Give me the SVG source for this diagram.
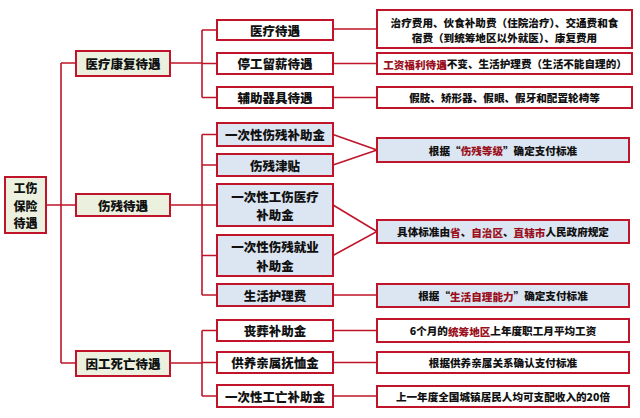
<svg xmlns="http://www.w3.org/2000/svg" width="640" height="418" viewBox="0 0 640 418">
<style>
text{font-family:"Noto Sans CJK SC","Noto Sans",sans-serif;font-weight:900;fill:#111;dominant-baseline:central;text-anchor:middle}
.b{stroke:#c0142a;stroke-width:2}
.g{fill:#ebf1de}
.u{fill:#dce6f2}
.w{fill:#fff}
.t1{font-size:12.5px}
.t0{font-size:12px}
.t2{font-size:12.5px}
.t3{font-size:10.6px}
.r{fill:#9a1020}
.c{stroke:#c0142a;stroke-width:1.6;fill:none}
</style>
<rect width="640" height="418" fill="#fff"/>
<g id="connectors">
<path class="c" d="M46 205H61M61 63V363M61 63H76M61 205H76M61 363H76"/>
<path class="c" d="M170 63H202M202 30V97.5M202 30H217M202 63.5H217M202 97.5H217"/>
<path class="c" d="M170 205H202M202 134.5V295M202 134.5H217M202 165H217M202 205H217M202 255.5H217M202 295H217"/>
<path class="c" d="M170 363H202M202 330.5V396M202 330.5H217M202 362.5H217M202 396H217"/>
<path class="c" d="M333 29H377M333 63.5H377M333 97.5H377"/>
<path class="c" d="M333 134.5L377 150L333 165M333 205L377 231.5L333 255.5M333 295H377"/>
<path class="c" d="M333 330.5H377M333 362.5H377M333 396H377"/>
</g>
<g id="root"><rect class="b g" x="5" y="177" width="41" height="56"/><text class="t0" x="25.5" y="187.5">工伤</text><text class="t0" x="25.5" y="205">保险</text><text class="t0" x="25.5" y="222.5">待遇</text></g>
<g id="n-yiliaokangfu"><rect class="b g" x="76" y="51" width="94" height="25"/><text class="t1" x="123" y="63.5">医疗康复待遇</text></g>
<g id="n-shangcan"><rect class="b g" x="76" y="194" width="94" height="22"/><text class="t1" x="123" y="205">伤残待遇</text></g>
<g id="n-yingongsiwang"><rect class="b g" x="76" y="351" width="94" height="25"/><text class="t1" x="123" y="363.5">因工死亡待遇</text></g>

<g id="n-yiliao"><rect class="b w" x="217" y="20" width="116" height="20"/><text class="t2" x="275" y="30">医疗待遇</text></g>
<g id="n-tinggong"><rect class="b w" x="217" y="53" width="116" height="21"/><text class="t2" x="275" y="63.5">停工留薪待遇</text></g>
<g id="n-fuzhu"><rect class="b w" x="217" y="87" width="116" height="21"/><text class="t2" x="275" y="97.5">辅助器具待遇</text></g>

<g id="n-ycxscbzj"><rect class="b u" x="217" y="123" width="116" height="23"/><text class="t2" x="275" y="134.5">一次性伤残补助金</text></g>
<g id="n-scjt"><rect class="b u" x="217" y="154" width="116" height="22"/><text class="t2" x="275" y="165">伤残津贴</text></g>
<g id="n-ycxgsyl"><rect class="b u" x="217" y="184" width="116" height="42"/><text class="t2" x="275" y="196">一次性工伤医疗</text><text class="t2" x="275" y="214.5">补助金</text></g>
<g id="n-ycxscjy"><rect class="b u" x="217" y="235" width="116" height="41"/><text class="t2" x="275" y="246.5">一次性伤残就业</text><text class="t2" x="275" y="265">补助金</text></g>
<g id="n-shhl"><rect class="b u" x="217" y="284" width="116" height="22"/><text class="t2" x="275" y="295">生活护理费</text></g>

<g id="n-sangzang"><rect class="b w" x="217" y="320" width="116" height="21"/><text class="t2" x="275" y="330.5">丧葬补助金</text></g>
<g id="n-gongyang"><rect class="b w" x="217" y="352" width="116" height="21"/><text class="t2" x="275" y="362.5">供养亲属抚恤金</text></g>
<g id="n-ycxgw"><rect class="b w" x="217" y="385" width="116" height="22"/><text class="t2" x="275" y="396">一次性工亡补助金</text></g>

<g id="d-yiliao"><rect class="b w" x="377" y="10" width="255" height="38"/><text class="t3" x="504.5" y="22">治疗费用、伙食补助费（住院治疗）、交通费和食</text><text class="t3" x="504.5" y="37">宿费（到统筹地区以外就医）、康复费用</text></g>
<g id="d-tinggong"><rect class="b w" x="377" y="53" width="255" height="21"/><text class="t3" x="505" y="63.5"><tspan class="r">工资福利待遇</tspan>不变、生活护理费（生活不能自理的）</text></g>
<g id="d-fuzhu"><rect class="b w" x="377" y="87" width="255" height="21"/><text class="t3" x="504.5" y="97.5">假肢、矫形器、假眼、假牙和配置轮椅等</text></g>

<g id="d-dengji"><rect class="b u" x="377" y="138" width="252" height="24"/><text class="t3" x="503" y="150">根据“<tspan class="r">伤残等级</tspan>”确定支付标准</text></g>
<g id="d-zhengfu"><rect class="b u" x="377" y="220" width="252" height="23"/><text class="t3" x="503" y="231.5">具体标准由<tspan class="r">省</tspan>、<tspan class="r">自治区</tspan>、<tspan class="r">直辖市</tspan>人民政府规定</text></g>
<g id="d-nengli"><rect class="b u" x="377" y="284" width="252" height="23"/><text class="t3" x="503" y="295.5">根据“<tspan class="r">生活自理能力</tspan>”确定支付标准</text></g>

<g id="d-sangzang"><rect class="b w" x="377" y="319" width="252" height="23"/><text class="t3" x="503" y="330.5">6个月的<tspan class="r">统筹地区</tspan>上年度职工月平均工资</text></g>
<g id="d-gongyang"><rect class="b w" x="377" y="352" width="252" height="21"/><text class="t3" x="503" y="362.5">根据供养亲属关系确认支付标准</text></g>
<g id="d-ycxgw"><rect class="b w" x="377" y="386" width="252" height="21"/><text class="t3" x="503" y="396.5">上一年度全国城镇居民人均可支配收入的20倍</text></g>
</svg>
